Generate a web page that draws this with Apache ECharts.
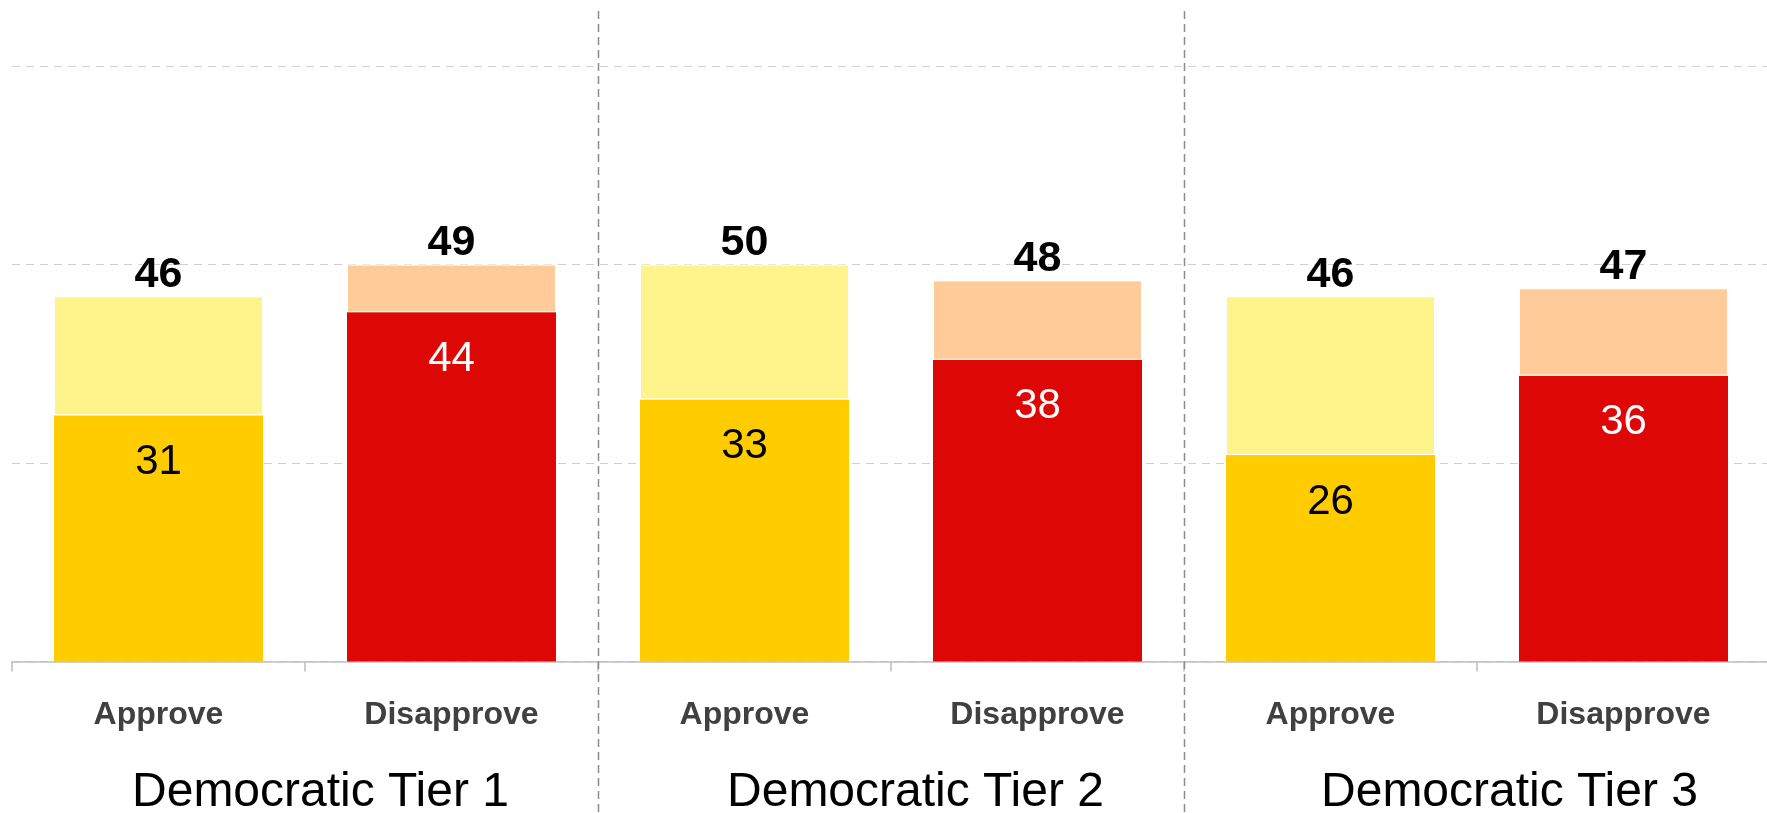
<!DOCTYPE html>
<html>
<head>
<meta charset="utf-8">
<script src="https://cdn.jsdelivr.net/npm/echarts@6/dist/echarts.min.js"></script>
<style>
html,body{margin:0;padding:0;background:#fff;}
#chart{width:1767px;height:813px;}
</style>
</head>
<body>
<div id="chart"></div>
<script>
// ---- data ----
const categories = ['Approve', 'Disapprove', 'Approve', 'Disapprove', 'Approve', 'Disapprove'];
const groups = ['Democratic Tier 1', 'Democratic Tier 2', 'Democratic Tier 3'];
const strongValues = [31, 44, 33, 38, 26, 36];   // strongly approve / disapprove (dark segment)
const softValues = [15, 6, 17, 10, 20, 11];      // somewhat approve / disapprove (light segment)
const totalLabels = [46, 49, 50, 48, 46, 47];    // printed totals
const yTicks = [0, 25, 50, 75];

// ---- styles ----
const FONT = "'Liberation Sans', Arial, sans-serif";
const strongColors = ['#FFCC00', '#DD0806'];
const softColors = ['#FFF48C', '#FFCC99'];
const innerLabelColors = ['#000000', '#FFFFFF'];
const groupPads = [31, 49, 65];

const chart = echarts.init(document.getElementById('chart'), null, {renderer: 'canvas'});

const groupRich = {};
groupPads.forEach((p, i) => {
  groupRich['g' + i] = {fontFamily: FONT, fontSize: 48, color: '#000000', padding: [0, 0, 0, p]};
});

const option = {
  animation: false,
  backgroundColor: '#ffffff',
  grid: {left: 12, right: -3, top: 66, bottom: 151.5, containLabel: false, outerBoundsMode: 'none'},
  xAxis: [
    {
      type: 'category',
      data: categories,
      position: 'bottom',
      axisLine: {show: true, lineStyle: {color: '#bfbfbf', width: 1.5}},
      axisTick: {show: true, length: 10, lineStyle: {color: '#bfbfbf', width: 1.5}},
      axisLabel: {fontFamily: FONT, fontSize: 32, fontWeight: 'bold', color: '#404040', margin: 38}
    },
    {
      type: 'category',
      data: groups,
      position: 'bottom',
      axisLine: {show: false},
      axisTick: {show: false},
      axisLabel: {
        margin: 107,
        formatter: (v, i) => '{g' + i + '|' + v + '}',
        rich: groupRich
      }
    }
  ],
  yAxis: {
    type: 'value',
    min: yTicks[0],
    max: yTicks[yTicks.length - 1],
    interval: yTicks[1] - yTicks[0],
    axisLine: {show: false},
    axisTick: {show: false},
    axisLabel: {show: false},
    splitLine: {show: true, lineStyle: {color: '#d0d0d0', width: 1.2, type: [8, 6]}}
  },
  series: [
    {
      name: 'Strong',
      type: 'bar',
      stack: 'total',
      xAxisIndex: 0,
      barWidth: 209,
      data: strongValues.map((v, i) => ({
        value: v,
        itemStyle: {color: strongColors[i % 2]},
        label: {color: innerLabelColors[i % 2]}
      })),
      label: {
        show: true,
        position: 'insideTop',
        distance: 26,
        fontFamily: FONT,
        fontSize: 42
      }
    },
    {
      name: 'Soft',
      type: 'bar',
      stack: 'total',
      xAxisIndex: 0,
      barWidth: 209,
      data: softValues.map((v, i) => ({
        value: v,
        itemStyle: {color: softColors[i % 2], borderColor: '#ffffff', borderWidth: 1}
      })),
      label: {
        show: true,
        position: 'top',
        distance: 0,
        fontFamily: FONT,
        fontSize: 43,
        fontWeight: 'bold',
        color: '#000000',
        formatter: p => String(totalLabels[p.dataIndex])
      }
    }
  ]
};

chart.setOption(option);

// group separator lines between category pairs
const sepGraphics = [];
for (let g = 1; g < groups.length; g++) {
  const a = chart.convertToPixel({xAxisIndex: 0}, g * 2 - 1);
  const b = chart.convertToPixel({xAxisIndex: 0}, g * 2);
  const x = Math.round((a + b) / 2) + 0.5;
  sepGraphics.push({
    type: 'line',
    z: 100,
    shape: {x1: x, y1: 11, x2: x, y2: 813},
    style: {stroke: '#8c8c8c', lineWidth: 1.5, lineDash: [8, 5]}
  });
}
chart.setOption({graphic: sepGraphics});
</script>
</body>
</html>
